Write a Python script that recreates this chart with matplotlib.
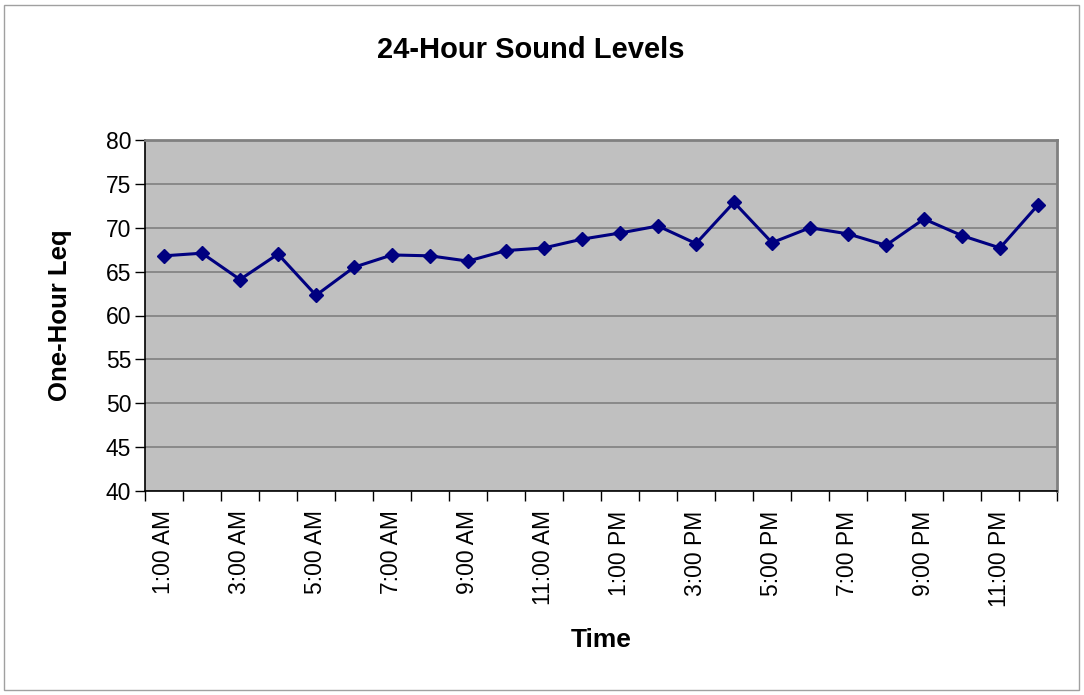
import numpy as np
import matplotlib.pyplot as plt
from matplotlib.patches import Rectangle

plt.rcParams['font.family'] = ['Liberation Sans', 'DejaVu Sans']

hours = ['1:00 AM', '2:00 AM', '3:00 AM', '4:00 AM', '5:00 AM', '6:00 AM',
         '7:00 AM', '8:00 AM', '9:00 AM', '10:00 AM', '11:00 AM', '12:00 PM',
         '1:00 PM', '2:00 PM', '3:00 PM', '4:00 PM', '5:00 PM', '6:00 PM',
         '7:00 PM', '8:00 PM', '9:00 PM', '10:00 PM', '11:00 PM', '12:00 AM']
leq = [66.8, 67.1, 64.1, 67.0, 62.3, 65.5, 66.9, 66.8, 66.2, 67.4, 67.7, 68.7,
       69.4, 70.2, 68.2, 72.9, 68.3, 70.0, 69.3, 68.0, 71.0, 69.1, 67.7, 72.6]

fig = plt.figure(figsize=(10.84, 6.95), dpi=100)
ax = fig.add_axes([145 / 1084, 1 - 491 / 695, 912 / 1084, 351 / 695])

# outer chart border
fig.patches.append(Rectangle((4 / 1084, 5 / 695), 1 - 9 / 1084, 1 - 10 / 695,
                             transform=fig.transFigure, fill=False,
                             edgecolor='#a0a0a0', linewidth=1))

x = np.arange(len(hours))
ax.set_facecolor('#c0c0c0')
ax.plot(x, leq, color='#000080', linewidth=2.2, marker='D', markersize=7.5)

ax.set_xlim(-0.5, len(hours) - 0.5)
ax.set_ylim(40, 80)
ax.set_yticks(np.arange(40, 81, 5))
ax.yaxis.grid(True, color='#808080', linewidth=1.2)
ax.set_axisbelow(True)

# category labels every other hour, tick marks at category boundaries
ax.set_xticks(x[::2])
ax.set_xticklabels(hours[::2], rotation=90)
ax.set_xticks(np.arange(-0.5, len(hours), 1), minor=True)
ax.tick_params(axis='x', which='major', length=0, pad=14, labelsize=16.5)
ax.tick_params(axis='x', which='minor', length=7, width=1, direction='out')
ax.tick_params(axis='y', length=7, width=1, labelsize=16.5, pad=3)

for side in ['top', 'right']:
    ax.spines[side].set_color('#808080')
    ax.spines[side].set_linewidth(2)
for side in ['left', 'bottom']:
    ax.spines[side].set_color('black')
    ax.spines[side].set_linewidth(1.2)

fig.text(531 / 1084, 1 - 50 / 695, '24-Hour Sound Levels', ha='center', va='center',
         fontsize=21, fontweight='bold')
fig.text(60 / 1084, 1 - 315 / 695, 'One-Hour Leq', ha='center', va='center',
         rotation=90, fontsize=18.5, fontweight='bold')
fig.text(601 / 1084, 1 - 640 / 695, 'Time', ha='center', va='center',
         fontsize=19, fontweight='bold')

fig.savefig('out.png', dpi=100)
